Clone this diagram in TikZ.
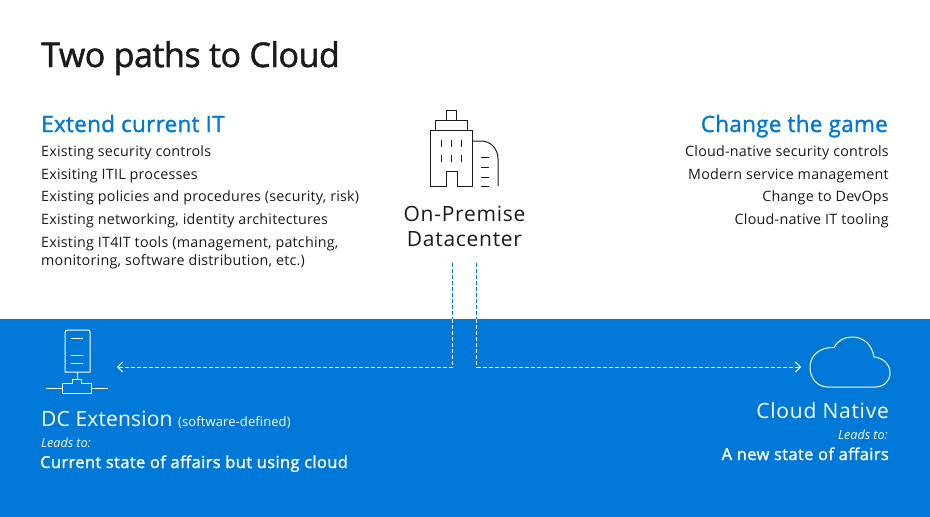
\documentclass[tikz,border=0pt]{standalone}
\usepackage{fontspec}
\setmainfont{Open Sans}
\usetikzlibrary{arrows.meta}
\definecolor{azure}{HTML}{0078D7}
\definecolor{inkblack}{HTML}{1A1A1A}
\begin{document}
\begin{tikzpicture}[x=1pt,y=-1pt,
  title/.style={anchor=base west,inner sep=0,font=\fontsize{34}{40}\selectfont\addfontfeature{LetterSpace=-1.4,FakeBold=1.4},text=inkblack},
  heading/.style={inner sep=0,font=\fontsize{22.5}{26}\selectfont\addfontfeature{LetterSpace=1.2,FakeBold=1.4},text=azure},
  bodytext/.style={inner sep=0,font=\fontsize{14.3}{18}\selectfont\addfontfeature{LetterSpace=1.6},text=inkblack},
  bigtext/.style={inner sep=0,font=\fontsize{21}{25}\selectfont\addfontfeature{LetterSpace=3.5}},
  smallit/.style={inner sep=0,font=\fontsize{12.6}{14}\selectfont\itshape\addfontfeature{LetterSpace=-0.3},text=white},
  boldtext/.style={inner sep=0,font=\fontsize{16.5}{20}\selectfont\addfontfeature{LetterSpace=2.2,FakeBold=1.4},text=white},
  icondark/.style={draw=inkblack,line width=1},
  iconwhite/.style={draw=white,line width=1},
  pathblue/.style={draw=azure,dash pattern=on 4pt off 2pt,line width=1},
  pathwhite/.style={draw=white,dash pattern=on 4pt off 2pt,line width=1}
]
\useasboundingbox (0,0) rectangle (930,517);
\fill[azure] (0,319) rectangle (930,517);

\node[title] (ttl) at (41,67) {Two paths to Cloud};

% left column
\node[heading,anchor=base west] (extend) at (41,132) {Extend current IT};
\node[bodytext,anchor=base west] (l1) at (41,156) {Existing security controls};
\node[bodytext,anchor=base west] (l2) at (41,179) {Exisiting ITIL processes};
\node[bodytext,anchor=base west] (l3) at (41,201) {Existing policies and procedures (security, risk)};
\node[bodytext,anchor=base west] (l4) at (41,224) {Existing networking, identity architectures};
\node[bodytext,anchor=base west] (l5) at (41,247) {Existing IT4IT tools (management, patching,};
\node[bodytext,anchor=base west] (l6) at (41,265) {monitoring, software distribution, etc.)};

% right column
\node[heading,anchor=base east] (change) at (888,132) {Change the game};
\node[bodytext,anchor=base east] (r1) at (889,156) {Cloud-native security controls};
\node[bodytext,anchor=base east] (r2) at (889,179) {Modern service management};
\node[bodytext,anchor=base east] (r3) at (889,201) {Change to DevOps};
\node[bodytext,anchor=base east] (r4) at (889,224) {Cloud-native IT tooling};

% building
\draw[icondark] (446,120) -- (446,110) -- (456,110) -- (456,120);
\draw[icondark] (435,130) -- (435,120) -- (467,120) -- (467,130);
\draw[icondark] (430,186) -- (430,130) -- (472,130) -- (472,186) -- (457,186) -- (457,171) -- (446,171) -- (446,186) -- cycle;
\draw[icondark] (472,141) -- (481,141) .. controls (491,141) and (498,149) .. (498,159) -- (498,186);
\foreach \x in {441,451,461} {
  \draw[icondark] (\x,140) -- (\x,147);
  \draw[icondark] (\x,155) -- (\x,162);
}
\foreach \y in {157,167,177,186}
  \draw[icondark] (481,\y) -- (489,\y);
\node[bigtext,anchor=base,text=inkblack] (onprem) at (464.5,221) {On-Premise};
\node[bigtext,anchor=base,text=inkblack] (dc) at (464.5,246) {Datacenter};

% the two paths
\coordinate (lefttop) at (452.5,263);
\coordinate (leftedge) at (452.5,319);
\coordinate (leftbend) at (452.5,367);
\coordinate (leftend) at (117,367);
\coordinate (righttop) at (476.5,263);
\coordinate (rightedge) at (476.5,319);
\coordinate (rightbend) at (476.5,367);
\coordinate (rightend) at (801,367);
\draw[pathblue] (lefttop) -- (leftedge);
\draw[pathblue] (righttop) -- (rightedge);
\draw[pathwhite,-{Straight Barb[length=5pt,width=10pt]}] (leftedge) -- (leftbend) -- (leftend);
\draw[pathwhite,-{Straight Barb[length=5pt,width=10pt]}] (rightedge) -- (rightbend) -- (rightend);

% server
\draw[iconwhite] (65,372) -- (65,333) .. controls (65,331) and (66,330) .. (68,330) -- (88,330) .. controls (90,330) and (90,331) .. (90,333) -- (90,372) -- cycle;
\draw[iconwhite] (71,338) -- (83,338);
\draw[iconwhite] (71,355) -- (83,355);
\draw[iconwhite] (71,363.5) -- (83,363.5);
\draw[iconwhite] (77,372) -- (77,379);
\draw[iconwhite] (62.5,393) -- (62.5,383) -- (72.5,383) -- (72.5,379) -- (81.5,379) -- (81.5,383) -- (91.5,383) -- (91.5,393) -- cycle;
\draw[iconwhite] (46,388.5) -- (62.5,388.5);
\draw[iconwhite] (91.5,388.5) -- (108,388.5);

% cloud
\draw[iconwhite] (828,387) .. controls (817,387) and (810,378) .. (810,367) .. controls (810,356) and (819,347) .. (834,347.5) .. controls (838,340) and (845,337) .. (852,337) .. controls (864,337) and (872,345) .. (874,357) .. controls (884,358) and (890,365) .. (890,373) .. controls (890,381) and (884,387) .. (875,387) -- cycle;

% bottom texts
\node[bigtext,anchor=base west,text=white] (ext) at (41,426) {\addfontfeature{LetterSpace=0.8}DC Extension \fontsize{13}{14}\selectfont(software-defined)};
\node[smallit,anchor=base west] (leadl) at (41,447) {Leads to:};
\node[boldtext,anchor=base west] (statel) at (40,468) {Current state of affairs but using cloud};
\node[bigtext,anchor=base east,text=white] (native) at (889,418) {Cloud Native};
\node[smallit,anchor=base east] (leadr) at (888,439) {Leads to:};
\node[boldtext,anchor=base east] (stater) at (889,460) {A new state of affairs};
\end{tikzpicture}
\end{document}
